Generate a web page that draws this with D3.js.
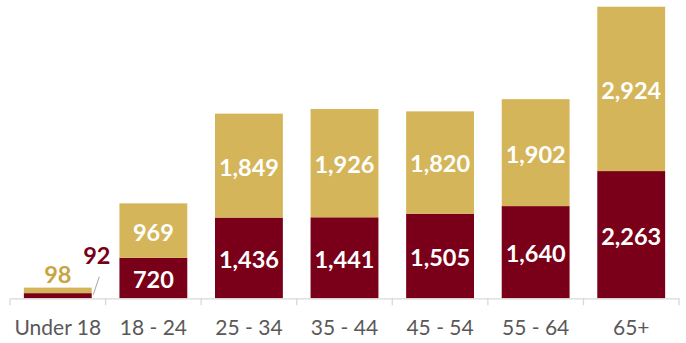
<!DOCTYPE html>
<html><head><meta charset="utf-8">
<script src="https://cdn.jsdelivr.net/npm/d3@7"></script>
<style>body{margin:0;background:#fff}svg{display:block}</style>
</head><body><svg id="c" width="686" height="343"></svg>
<script>
const categories = ["Under 18","18 - 24","25 - 34","35 - 44","45 - 54","55 - 64","65+"];
const bottomValues = [92,720,1436,1441,1505,1640,2263];
const topValues = [98,969,1849,1926,1820,1902,2924];

const W=686,H=343, left=10, right=679, base=298.3, topY=6.7;
const svg=d3.select("#c");
const x=d3.scaleBand().domain(categories).range([left,right]).paddingInner(0.29).paddingOuter(0.145);
const maxTotal=d3.max(categories.map((c,i)=>bottomValues[i]+topValues[i]));
const y=d3.scaleLinear().domain([0,maxTotal]).range([base,topY]);
const dark="#7A0019", gold="#D5B55A";
const fmt=d3.format(",");
const font="Lato, 'Open Sans', sans-serif";
const fs=23.5;

const data=categories.map((c,i)=>({c,b:bottomValues[i],t:topValues[i]}));
svg.selectAll("rect.b").data(data).join("rect").attr("x",d=>x(d.c)).attr("width",x.bandwidth())
  .attr("y",d=>y(d.b)).attr("height",d=>y(0)-y(d.b)).attr("fill",dark);
svg.selectAll("rect.t").data(data).join("rect").attr("x",d=>x(d.c)).attr("width",x.bandwidth())
  .attr("y",d=>y(d.b+d.t)).attr("height",d=>y(d.b)-y(d.b+d.t)).attr("fill",gold);

// axis
const axis=d3.axisBottom(x).tickSize(0).tickPadding(22);
const g=svg.append("g").attr("transform",`translate(0,${base})`).call(axis);
g.select(".domain").attr("stroke","#d9d9d9").attr("stroke-width",1.3);
g.selectAll("text").attr("font-family",font).attr("font-size",21).attr("fill","#595959");
// boundary ticks
const bounds=categories.map(c=>x(c)-x.step()*x.paddingInner()/2).concat([right]);
bounds[0]=left;
g.selectAll("line.bt").data(bounds).join("line").attr("x1",d=>d).attr("x2",d=>d)
  .attr("y1",0).attr("y2",7).attr("stroke","#d9d9d9").attr("stroke-width",1.3);

// labels inside
const inside=data.slice(1);
const lab=svg.append("g").attr("font-family",font).attr("font-weight",700).attr("font-size",fs)
  .attr("fill","#fff").attr("text-anchor","middle");
lab.selectAll("text.b").data(inside).join("text").attr("x",d=>x(d.c)+x.bandwidth()/2)
  .attr("y",d=>(y(0)+y(d.b))/2+1.5).attr("dy","0.36em").text(d=>fmt(d.b));
lab.selectAll("text.t").data(inside).join("text").attr("x",d=>x(d.c)+x.bandwidth()/2)
  .attr("y",d=>(y(d.b)+y(d.b+d.t))/2+1.5).attr("dy","0.36em").text(d=>fmt(d.t));

// Under 18 outside labels
const u=data[0], ux=x(u.c)+x.bandwidth()/2;
svg.append("text").attr("x",ux+0).attr("y",y(u.b+u.t)-13).attr("dy","0.36em")
  .attr("text-anchor","middle").attr("font-family",font).attr("font-weight",700).attr("font-size",fs)
  .attr("fill","#C9A444").text(fmt(u.t));
svg.append("text").attr("x",ux+39).attr("y",y(u.b+u.t)-32).attr("dy","0.36em")
  .attr("text-anchor","middle").attr("font-family",font).attr("font-weight",700).attr("font-size",fs)
  .attr("fill",dark).text(fmt(u.b));
svg.append("line").attr("x1",ux+41.5).attr("y1",y(u.b+u.t)-11).attr("x2",ux+35.5).attr("y2",y(u.b/2)-1)
  .attr("stroke","#a6a6a6").attr("stroke-width",1);
</script></body></html>
